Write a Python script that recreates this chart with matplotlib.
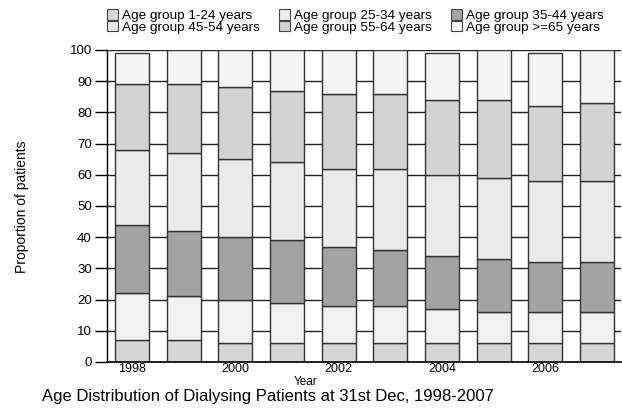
import numpy as np
import matplotlib.pyplot as plt
from matplotlib.patches import Patch

plt.rcParams['font.family'] = ['Liberation Sans', 'DejaVu Sans']

years = [1998, 1999, 2000, 2001, 2002, 2003, 2004, 2005, 2006, 2007]
# cumulative tops of each age group (percent)
cum_1_24 = [7, 7, 6, 6, 6, 6, 6, 6, 6, 6]
cum_25_34 = [22, 21, 20, 19, 18, 18, 17, 16, 16, 16]
cum_35_44 = [44, 42, 40, 39, 37, 36, 34, 33, 32, 32]
cum_45_54 = [68, 67, 65, 64, 62, 62, 60, 59, 58, 58]
cum_55_64 = [89, 89, 88, 87, 86, 86, 84, 84, 82, 83]
cum_65 = [99, 100, 100, 100, 100, 100, 99, 100, 99, 100]

labels = ['Age group 1-24 years', 'Age group 25-34 years', 'Age group 35-44 years',
          'Age group 45-54 years', 'Age group 55-64 years', 'Age group >=65 years']
colors = ['#d6d6d6', '#f0f0f0', '#a3a3a3', '#eaeaea', '#d3d3d3', '#f4f4f4']

cums = [cum_1_24, cum_25_34, cum_35_44, cum_45_54, cum_55_64, cum_65]

fig = plt.figure(figsize=(6.22, 4.13), dpi=100)
ax = fig.add_axes([0.172, 0.1235, 0.826, 0.7555])

x = np.array(years)
prev = np.zeros(len(years))
for c, col in zip(cums, colors):
    c = np.array(c, dtype=float)
    ax.bar(x, c - prev, bottom=prev, width=0.66, color=col,
           edgecolor='#333333', linewidth=1.0, zorder=3)
    prev = c

ax.set_ylim(0, 100)
ax.set_xlim(1998 - 0.484, 2007 + 0.46)
ax.set_yticks(np.arange(0, 101, 10))
ax.set_xticks([1998, 2000, 2002, 2004, 2006])
ax.tick_params(axis='y', direction='out', length=9, width=1, labelsize=9.5, pad=2)
ax.tick_params(axis='x', length=0, labelsize=9, pad=1)
ax.yaxis.grid(True, color='#222222', linewidth=1.0, zorder=0)
ax.set_axisbelow(True)
for s in ['top', 'right']:
    ax.spines[s].set_visible(False)
ax.spines['left'].set_linewidth(1.0)
ax.spines['bottom'].set_linewidth(1.2)
ax.spines['bottom'].set_zorder(4)

fig.text(0.035, 0.50, 'Proportion of patients', rotation=90, fontsize=10,
         ha='center', va='center')
fig.text(0.492, 0.076, 'Year', fontsize=8.5, ha='center', va='center')
fig.text(0.43, 0.039, 'Age Distribution of Dialysing Patients at 31st Dec, 1998-2007',
         fontsize=12, ha='center', va='center')

order = [0, 3, 1, 4, 2, 5]
handles = [Patch(facecolor=colors[i], edgecolor='#444444', linewidth=0.8) for i in order]
fig.legend(handles, [labels[i] for i in order], ncol=3, loc='upper left',
           bbox_to_anchor=(0.157, 1.0), frameon=False, fontsize=9.7,
           handlelength=0.8, handleheight=0.8, handletextpad=0.3,
           columnspacing=1.42, labelspacing=-0.1, borderpad=0.2)

fig.savefig('out.png', dpi=100)
